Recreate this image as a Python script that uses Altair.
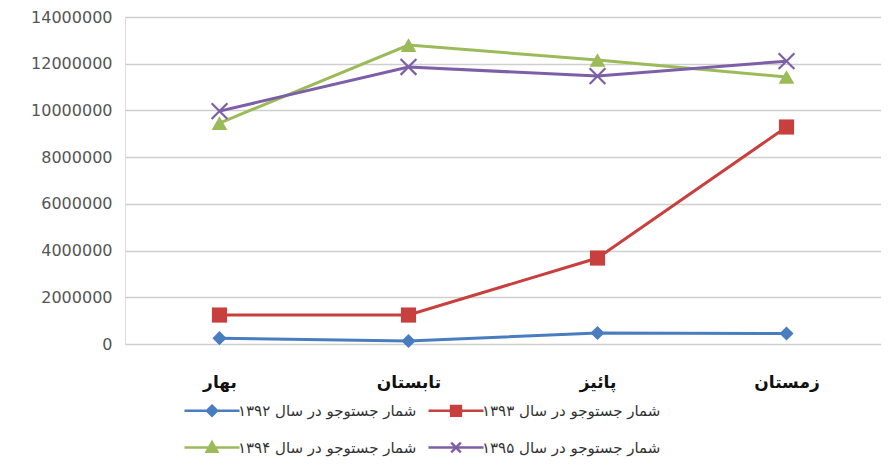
import altair as alt
import pandas as pd

seasons = ["بهار", "تابستان", "پائیز", "زمستان"]
series = [
    "شمار جستوجو در سال ۱۳۹۲",
    "شمار جستوجو در سال ۱۳۹۳",
    "شمار جستوجو در سال ۱۳۹۴",
    "شمار جستوجو در سال ۱۳۹۵",
]
v1392 = [250000, 130000, 470000, 450000]
v1393 = [1240000, 1240000, 3680000, 9290000]
v1394 = [9460000, 12800000, 12160000, 11430000]
v1395 = [9970000, 11860000, 11470000, 12110000]
colors = ["#4a7dc0", "#c8403d", "#9bbb59", "#7d5fa8"]
y_ticks = [0, 2000000, 4000000, 6000000, 8000000, 10000000, 12000000, 14000000]

rows = []
for name, vals in zip(series, [v1392, v1393, v1394, v1395]):
    for s, v in zip(seasons, vals):
        rows.append({"season": s, "series": name, "value": v})
df = pd.DataFrame(rows)

x_enc = alt.X("season:N", sort=seasons, scale=alt.Scale(type="point", padding=0.5),
              axis=alt.Axis(title=None, domain=False, ticks=False, labelAngle=0,
                            labelFontSize=17, labelFontWeight="bold", labelColor="#111",
                            labelPadding=30, labelFont="DejaVu Sans"))
y_enc = alt.Y("value:Q", scale=alt.Scale(domain=[0, 14000000], nice=False),
              axis=alt.Axis(title=None, values=y_ticks, format="d", domain=False, ticks=False,
                            labelFontSize=16, labelColor="#555", labelPadding=13,
                            gridColor="#cfcfcf", gridWidth=1.5, labelFont="DejaVu Sans"))

legend_paths = [
    "M-1,0L6.86,0M2.93,-0.72L3.65,0L2.93,0.72L2.21,0Z",
    "M-1,0L6.86,0M2.23,-0.7L3.63,-0.7L3.63,0.7L2.23,0.7Z",
    "M-1,0L6.86,0M2.93,-0.78L3.7,0.6L2.16,0.6Z",
    "M-1,0L6.86,0M2.25,-0.68L3.61,0.68M2.25,0.68L3.61,-0.68",
]

legend = alt.Legend(
    title=None, orient="none", legendX=58, legendY=385, direction="horizontal",
    columns=2, columnPadding=6, rowPadding=16, padding=0,
    symbolSize=196, symbolStrokeWidth=2.5, symbolOpacity=1,
    labelOffset=38, labelFontSize=15, labelColor="#333",
    labelFont="DejaVu Sans", labelLimit=400,
)

base = alt.Chart(df)
layers = []
layers.append(base.mark_line(strokeWidth=3).encode(
    x=x_enc, y=y_enc,
    color=alt.Color("series:N", scale=alt.Scale(domain=series, range=colors), legend=legend),
))
marker_shapes = ["diamond", "square", "triangle-up", "M-1,-1L1,1M-1,1L1,-1"]
marker_sizes = [200, 230, 250, 250]
for i, name in enumerate(series):
    sub = base.transform_filter(alt.datum.series == name)
    if i < 3:
        m = sub.mark_point(filled=True, opacity=1, shape=marker_shapes[i],
                           size=marker_sizes[i], color=colors[i])
    else:
        m = sub.mark_point(filled=False, opacity=1, shape=marker_shapes[i],
                           size=marker_sizes[i], color=colors[i], strokeWidth=2.2)
    layers.append(m.encode(x=x_enc, y=y_enc))

legend_layer = base.mark_point(filled=True, size=196, opacity=0).encode(
    x=x_enc, y=y_enc,
    fill=alt.Fill("series:N", scale=alt.Scale(domain=series, range=colors), legend=legend),
    stroke=alt.Stroke("series:N", scale=alt.Scale(domain=series, range=colors), legend=legend),
    shape=alt.Shape("series:N", scale=alt.Scale(domain=series, range=legend_paths), legend=legend),
)
layers.append(legend_layer)

chart = alt.layer(*layers).properties(
    width=756, height=327,
    autosize=alt.AutoSizeParams(type="none"),
    padding={"left": 117, "top": 9, "right": 0, "bottom": 120},
).configure_view(stroke=None).configure(background="white")

chart.save("out.html", embed_options={"renderer": "svg", "actions": False})
